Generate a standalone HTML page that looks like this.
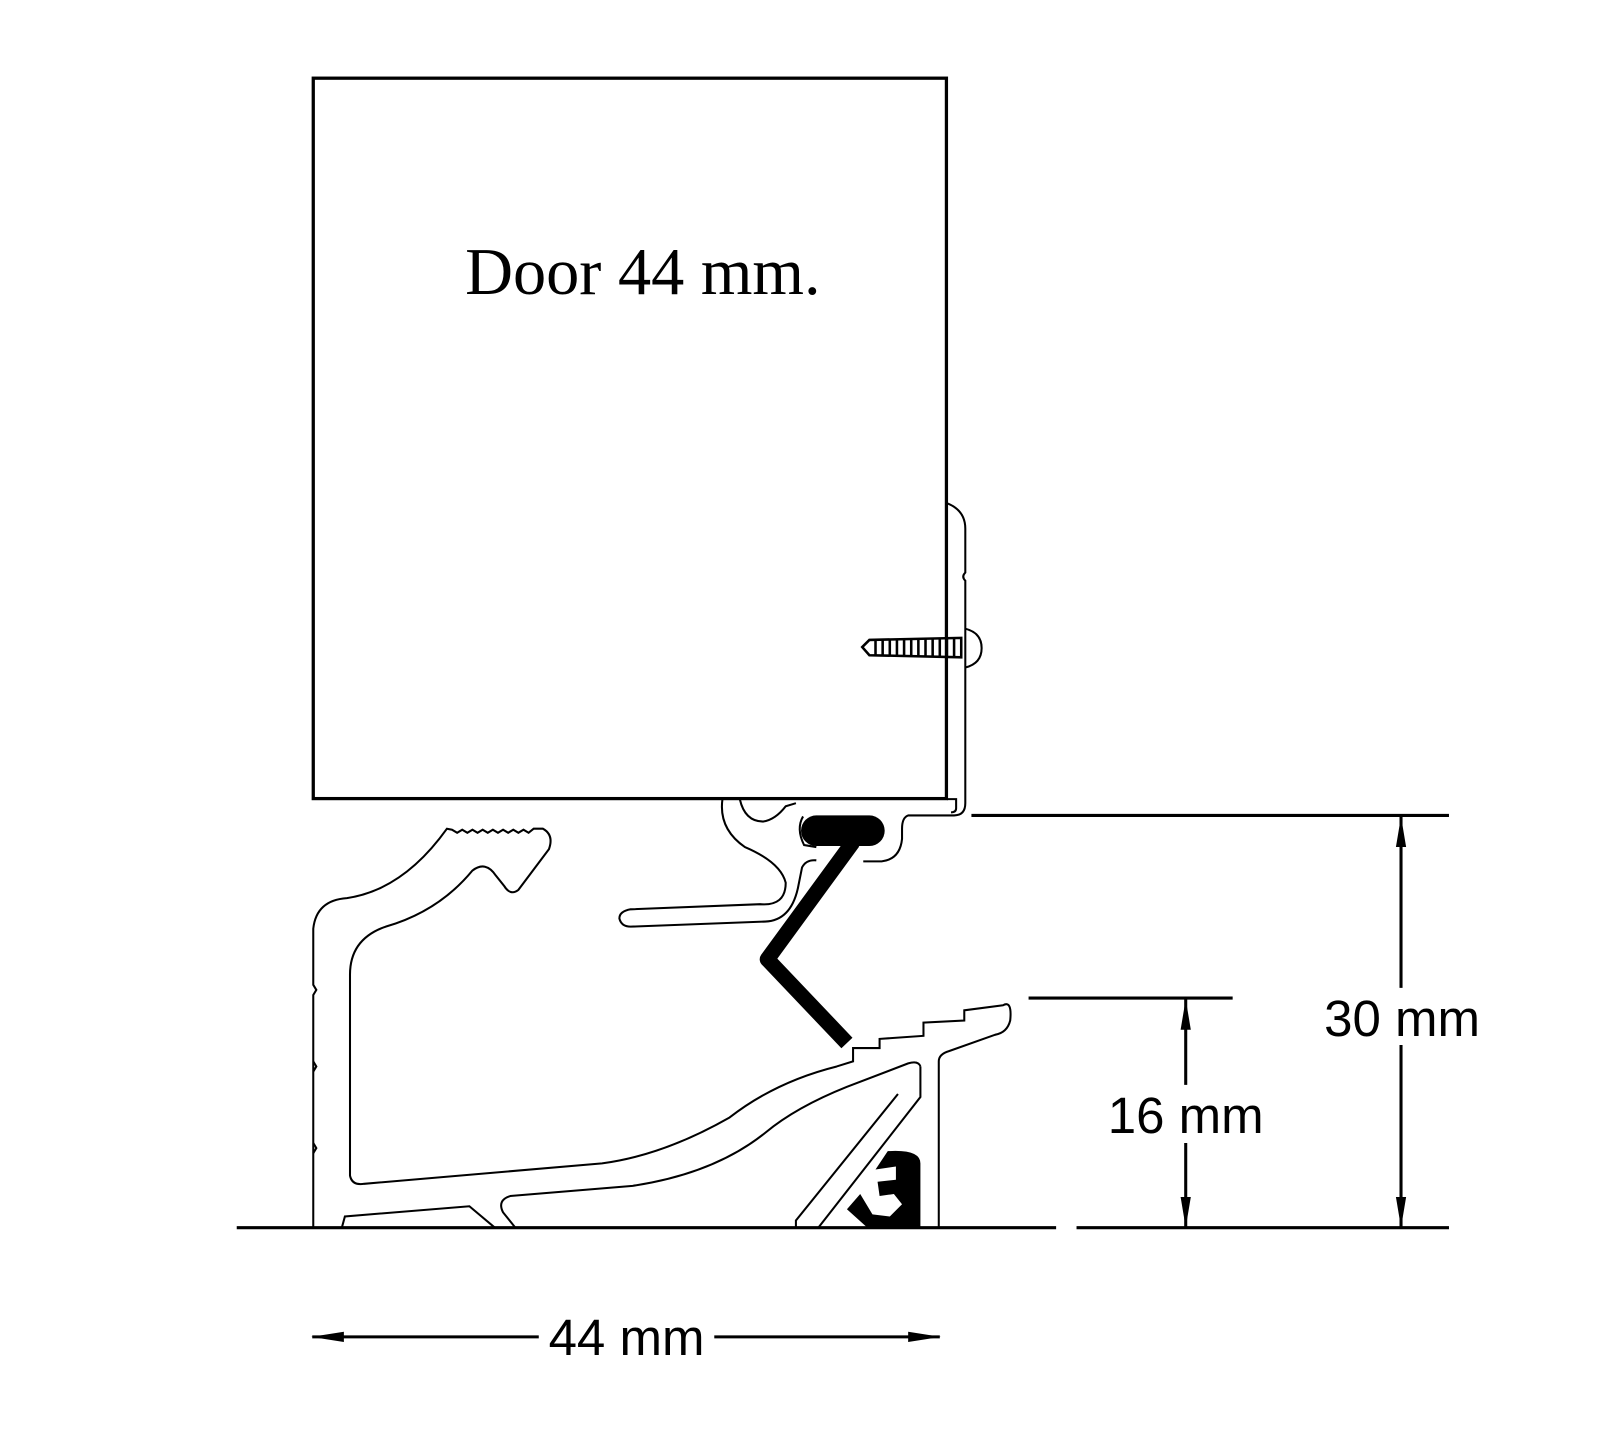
<!DOCTYPE html>
<html><head><meta charset="utf-8"><style>html,body{margin:0;padding:0;background:#fff}svg{display:block}</style></head>
<body>
<svg width="1600" height="1438" viewBox="0 0 1568 1409" xmlns="http://www.w3.org/2000/svg">
<rect width="1568" height="1409" fill="#fff"/>
<!-- door -->
<rect x="307" y="76.5" width="620.5" height="706" fill="none" stroke="#000" stroke-width="3.2"/>
<text x="630" y="288" font-family="Liberation Serif, serif" font-size="65" text-anchor="middle">Door 44 mm.</text>

<g fill="none" stroke="#000" stroke-width="2">
<path d="M928,493 Q946,500 946,518 L946,561 Q942,565 946,569 L946,787 Q946,799 935,799 L890,799 Q884,801 884,812 L884,822 Q882,842 864,844 L846,844"/>
<path d="M928,783 L937,783 L937,792 Q937,796 932,796"/>
<path d="M946,616 Q962,620 962,635 Q962,650 946,654"/>
<path d="M845,634 L852,627 L942,625 L942,644 L852,642 Z" stroke-width="2.5"/>
<path d="M858,626 L858,643 M865,626 L865,643 M872,626 L872,643 M879,626 L879,643 M886,626 L886,643 M893,626 L893,643 M900,626 L900,643 M907,626 L907,643 M914,626 L914,643 M921,626 L921,643 M928,626 L928,643 M935,626 L935,643" stroke-width="2.5"/>
<path d="M708,783 Q704,812 730,830 Q765,845 770,865 Q770,888 745,886 L618,891 Q607,893 607,900 Q609,908 618,908 L750,903 Q775,902 782,870 L786,850 Q790,842 800,843"/>
<path d="M725,783 Q730,805 748,805 Q760,803 770,790 L780,787"/>
<path d="M787,800 Q780,812 788,828 L800,830"/>
<path d="M307,1203 L307,975 L310,970 L307,965 L307,910 Q310,882 340,880 Q395,872 438,812 L443,813 L448,816 L453,813 L458,816 L463,813 L468,816 L473,813 L478,816 L483,813 L488,816 L493,813 L498,816 L503,813 L508,816 L513,813 L518,816 L523,812 L532,812 Q543,818 538,832 L508,872 Q500,878 494,868 L486,858 Q476,843 463,853 Q430,893 378,908 Q343,920 343,955 L343,1152 Q345,1162 357,1160 L590,1140 Q650,1132 715,1095 Q760,1060 820,1045 L836,1040 L836,1027 L862,1027 L862,1018 L905,1015 L905,1002 L945,1000 L945,990 L983,985 Q992,980 990,1000 Q987,1012 975,1014 L930,1030 Q920,1033 920,1040 L920,1203"/>
<path d="M307,1050 L310,1045 L307,1040 M307,1130 L310,1125 L307,1120"/>
<path d="M902,1045 Q900,1039 890,1042 L830,1065 Q780,1085 750,1110 Q700,1150 620,1162 L500,1172 Q487,1176 493,1188 L505,1203"/>
<path d="M902,1045 L902,1075 L802,1203"/>
<path d="M780,1203 L780,1196 L880,1072"/>
<path d="M335,1203 L338,1192 L460,1182 L485,1203"/>
</g>
<!-- black seal -->
<rect x="785" y="799" width="82" height="30" rx="15" fill="#000"/>
<path d="M836,825 L752,940 L830,1022" fill="none" stroke="#000" stroke-width="15" stroke-linejoin="round"/>
<!-- black clip -->
<path d="M870,1128 Q902,1126 902,1140 L902,1203 L850,1203 L830,1185 L843,1170 L855,1190 L872,1192 L884,1180 L876,1170 L862,1172 L860,1158 L878,1156 L878,1143 L858,1146 Z" fill="#000"/>

<g stroke="#000" stroke-width="3" fill="none">
<line x1="232" y1="1203" x2="1035" y2="1203"/>
<line x1="1055" y1="1203" x2="1420" y2="1203"/>
<line x1="952" y1="799" x2="1420" y2="799"/>
<line x1="1008" y1="978" x2="1208" y2="978"/>
<line x1="1373" y1="800" x2="1373" y2="968"/>
<line x1="1373" y1="1024" x2="1373" y2="1202"/>
<line x1="1162" y1="979" x2="1162" y2="1063"/>
<line x1="1162" y1="1120" x2="1162" y2="1202"/>
<line x1="306" y1="1310" x2="528" y2="1310"/>
<line x1="700" y1="1310" x2="921" y2="1310"/>
</g>
<g fill="#000">
<path d="M1373,800 L1378,830 L1368,830 Z"/>
<path d="M1373,1203 L1378,1173 L1368,1173 Z"/>
<path d="M1162,979 L1167,1009 L1157,1009 Z"/>
<path d="M1162,1203 L1167,1173 L1157,1173 Z"/>
<path d="M305,1310 L337,1305 L337,1315 Z"/>
<path d="M922,1310 L890,1305 L890,1315 Z"/>
</g>
<g font-family="Liberation Sans, sans-serif" font-size="50" fill="#000" text-anchor="middle">
<text x="1374" y="1015">30 mm</text>
<text x="1162" y="1110">16 mm</text>
<text x="614" y="1328">44 mm</text>
</g>
</svg>
</body></html>
